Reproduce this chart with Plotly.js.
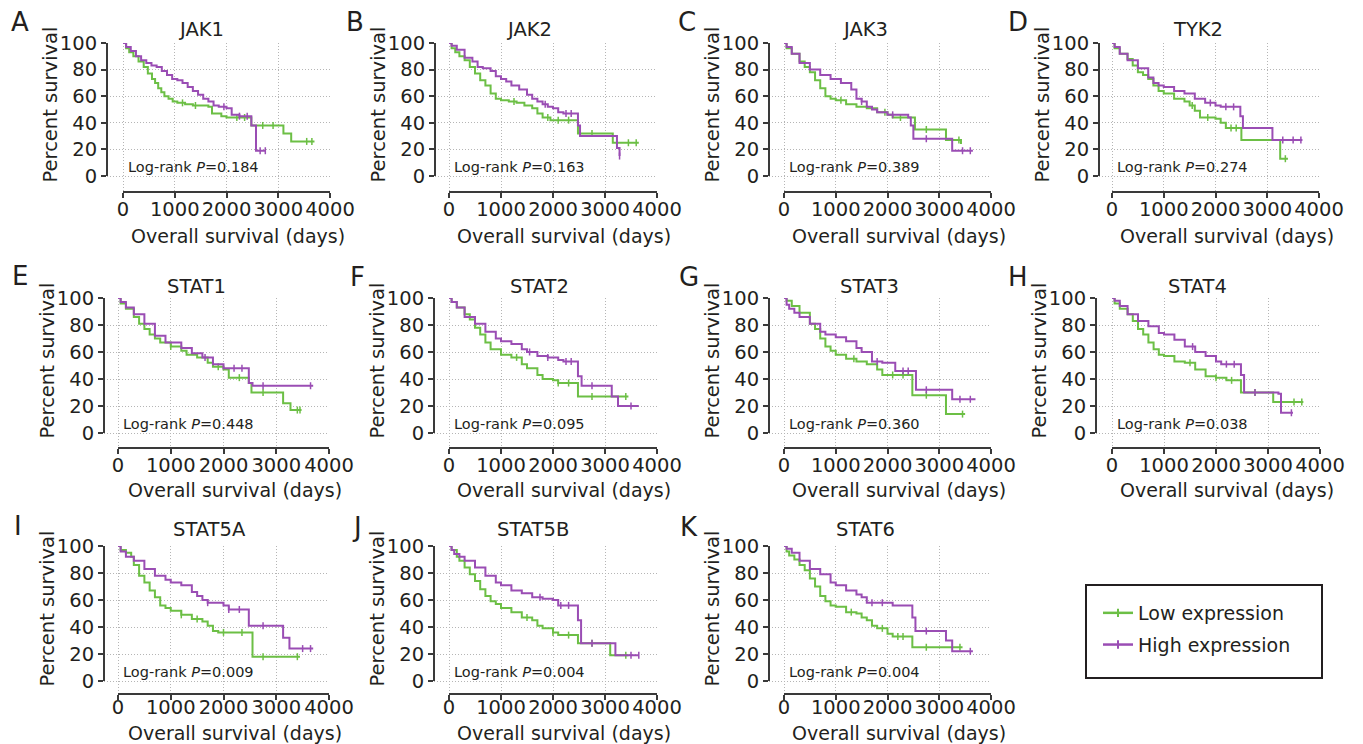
<!DOCTYPE html>
<html><head><meta charset="utf-8">
<script src="https://cdn.plot.ly/plotly-3.0.1.min.js"></script>
<style>html,body{margin:0;padding:0;background:#fff;} #chart{width:1363px;height:744px;}</style>
</head><body><div id="chart"></div>
<script>
// ---------------- DATA ----------------
const genes   = ['JAK1','JAK2','JAK3','TYK2','STAT1','STAT2','STAT3','STAT4','STAT5A','STAT5B','STAT6'];
const letters = ['A','B','C','D','E','F','G','H','I','J','K'];
const pValues = ['0.184','0.163','0.389','0.274','0.448','0.095','0.360','0.038','0.009','0.004','0.004'];
const xTicks = [0,1000,2000,3000,4000];
const yTicks = [0,20,40,60,80,100];
const seriesNames = ['Low expression','High expression'];

// JAK1
const JAK1_low_t  = [0,60,120,200,300,400,480,560,620,680,740,800,880,960,1050,1200,1350,1500,1650,1720,1900,2000,2480,3100,3250,3700];
const JAK1_low_s  = [100,96,93,90,86,82,77,73,70,66,63,60,58,56,55,54,53,53,52,47,45,44,38,32,26,26];
const JAK1_low_c  = [1150,1400,2200,2350,2700,2900,3550,3650];
const JAK1_high_t = [0,60,150,250,350,450,550,650,750,850,950,1050,1150,1250,1350,1450,1550,1650,1750,1850,2000,2100,2250,2480,2570,2750];
const JAK1_high_s = [100,97,94,90,87,85,83,82,79,76,73,72,70,67,64,61,58,56,53,52,51,46,45,38,19,19];
const JAK1_high_c = [1950,2250,2400,2650,2750];
// JAK2
const JAK2_low_t  = [0,50,120,200,300,400,500,600,700,800,900,1000,1150,1300,1450,1600,1700,1800,1950,2480,3150,3650];
const JAK2_low_s  = [100,96,93,90,87,82,77,72,68,62,58,57,56,55,53,51,47,44,42,32,25,25];
const JAK2_low_c  = [1250,1900,2100,2300,2750,3450,3600];
const JAK2_high_t = [0,50,150,300,450,550,650,800,900,1000,1100,1200,1350,1500,1600,1700,1800,1900,2000,2100,2200,2480,2520,3230,3280];
const JAK2_high_s = [100,98,95,89,86,82,81,79,75,73,71,68,65,61,58,56,54,52,51,48,47,38,30,21,15];
const JAK2_high_c = [1850,2250,2350,3280];
// JAK3
const JAK3_low_t  = [0,50,150,300,400,500,600,700,800,900,1000,1200,1400,1600,1800,2000,2100,2530,3130,3420];
const JAK3_low_s  = [100,96,92,86,82,78,72,66,60,58,57,54,52,51,48,46,44,35,27,24];
const JAK3_low_c  = [1100,1950,2250,2750,3380];
const JAK3_high_t = [0,50,150,300,500,700,900,1100,1300,1400,1500,1600,1700,1800,2000,2400,2450,2500,3250,3650];
const JAK3_high_s = [100,97,92,85,80,76,73,70,65,58,56,52,50,48,46,44,38,28,19,19];
const JAK3_high_c = [1500,2100,2750,3450,3600];
// TYK2
const TYK2_low_t  = [0,50,150,300,400,500,600,700,800,900,1000,1200,1400,1500,1600,1700,2000,2100,2200,2500,3250,3400];
const TYK2_low_s  = [100,96,92,88,83,78,76,73,68,64,62,58,56,53,49,44,43,40,36,27,13,13];
const TYK2_low_c  = [1550,1850,2300,2400,3350];
const TYK2_high_t = [0,50,150,300,500,700,800,900,1000,1200,1400,1600,1800,2000,2100,2480,2530,3100,3680];
const TYK2_high_s = [100,97,92,87,81,74,70,68,67,64,62,58,55,53,52,45,36,27,27];
const TYK2_high_c = [1900,2200,2350,3300,3500,3650];
// STAT1
const STAT1_low_t  = [0,50,150,300,400,500,600,700,800,1000,1200,1300,1500,1700,1800,2000,2100,2480,2530,3130,3270,3480];
const STAT1_low_s  = [100,96,92,86,81,77,73,70,67,64,61,58,56,52,49,47,41,37,30,22,17,17];
const STAT1_low_c  = [1000,1900,2300,2750,3400,3450];
const STAT1_high_t = [0,50,150,300,500,700,900,1000,1200,1400,1600,1800,2000,2480,2550,3700];
const STAT1_high_s = [100,97,93,88,81,72,67,67,63,59,56,51,48,37,35,35];
const STAT1_high_c = [1650,2200,2350,2750,3650];
// STAT2
const STAT2_low_t  = [0,50,150,300,400,500,600,700,800,1000,1200,1400,1500,1700,1800,2000,2100,2480,3450];
const STAT2_low_s  = [100,97,93,88,84,78,73,67,62,58,56,51,48,43,40,39,37,27,27];
const STAT2_low_c  = [1300,2100,2300,2750,3400];
const STAT2_high_t = [0,50,150,300,500,700,900,1000,1200,1400,1500,1700,1900,2100,2200,2480,2550,3130,3250,3650];
const STAT2_high_s = [100,97,93,86,81,75,70,68,66,62,60,57,56,54,53,42,35,27,20,20];
const STAT2_high_c = [1550,1900,2250,2350,2750,3500];
// STAT3
const STAT3_low_t  = [0,50,150,300,500,600,700,800,900,1000,1200,1400,1600,1800,1900,2480,3130,3500];
const STAT3_low_s  = [100,98,94,89,81,77,70,64,61,58,55,53,51,47,43,28,14,14];
const STAT3_low_c  = [1350,2100,2300,2750,3450];
const STAT3_high_t = [0,50,100,200,300,500,700,800,1000,1200,1400,1500,1700,1900,2150,2550,3250,3700];
const STAT3_high_s = [100,95,92,89,86,81,75,73,71,68,63,60,53,52,46,32,25,25];
const STAT3_high_c = [1800,2300,2400,2750,3400,3600];
// STAT4
const STAT4_low_t  = [0,50,150,300,400,500,600,700,800,900,1000,1200,1400,1600,1800,2000,2200,2480,3100,3680];
const STAT4_low_s  = [100,96,92,88,83,77,73,67,62,58,57,53,52,47,42,41,39,30,23,23];
const STAT4_low_c  = [1500,2000,2300,2750,3500,3650];
const STAT4_high_t = [0,50,150,300,500,700,900,1000,1200,1400,1600,1800,2000,2100,2480,2540,3200,3250,3480];
const STAT4_high_s = [100,98,94,88,83,79,74,73,69,64,60,57,53,51,43,30,29,15,15];
const STAT4_high_c = [1550,2200,2350,2750,3450];
// STAT5A
const STAT5A_low_t  = [0,50,150,250,300,400,500,600,700,800,900,1000,1200,1400,1600,1700,1800,1900,2550,3450];
const STAT5A_low_s  = [100,97,95,92,86,78,73,67,62,56,54,52,49,46,44,41,37,36,18,18];
const STAT5A_low_c  = [1200,1500,2000,2350,2750,3400];
const STAT5A_high_t = [0,50,150,300,500,700,900,1000,1200,1400,1500,1600,1700,2000,2100,2480,3130,3250,3700];
const STAT5A_high_s = [100,96,92,89,83,78,75,73,71,66,63,60,58,56,53,41,32,24,24];
const STAT5A_high_c = [1700,2100,2300,2750,3500,3650];
// STAT5B
const STAT5B_low_t  = [0,50,150,200,300,400,500,600,700,800,900,1000,1200,1400,1600,1700,1800,2000,2100,2480,3100,3450];
const STAT5B_low_s  = [100,97,92,89,84,79,74,68,63,59,57,54,51,47,45,41,39,36,34,28,19,19];
const STAT5B_low_c  = [1500,2000,2300,2750,3400];
const STAT5B_high_t = [0,50,100,200,300,500,700,900,1000,1200,1400,1600,1800,2000,2100,2480,2540,3200,3650];
const STAT5B_high_s = [100,97,94,92,89,84,78,73,71,67,65,62,61,60,56,45,28,19,19];
const STAT5B_high_c = [1750,2150,2300,2750,3500,3650];
// STAT6
const STAT6_low_t  = [0,50,100,200,300,400,500,600,700,800,900,1000,1200,1400,1500,1600,1700,1800,2000,2100,2480,3450];
const STAT6_low_s  = [100,96,93,90,86,82,76,70,63,59,56,55,51,50,47,45,41,39,35,33,25,25];
const STAT6_low_c  = [1300,1900,2200,2300,2750,3400];
const STAT6_high_t = [0,50,150,300,500,700,900,1000,1200,1400,1500,1600,2100,2480,2540,3130,3250,3650];
const STAT6_high_s = [100,98,95,89,83,79,73,71,67,64,62,58,56,47,37,30,22,22];
const STAT6_high_c = [1700,1900,2750,3600];

const curves = {
  JAK1:[[JAK1_low_t,JAK1_low_s,JAK1_low_c],[JAK1_high_t,JAK1_high_s,JAK1_high_c]],
  JAK2:[[JAK2_low_t,JAK2_low_s,JAK2_low_c],[JAK2_high_t,JAK2_high_s,JAK2_high_c]],
  JAK3:[[JAK3_low_t,JAK3_low_s,JAK3_low_c],[JAK3_high_t,JAK3_high_s,JAK3_high_c]],
  TYK2:[[TYK2_low_t,TYK2_low_s,TYK2_low_c],[TYK2_high_t,TYK2_high_s,TYK2_high_c]],
  STAT1:[[STAT1_low_t,STAT1_low_s,STAT1_low_c],[STAT1_high_t,STAT1_high_s,STAT1_high_c]],
  STAT2:[[STAT2_low_t,STAT2_low_s,STAT2_low_c],[STAT2_high_t,STAT2_high_s,STAT2_high_c]],
  STAT3:[[STAT3_low_t,STAT3_low_s,STAT3_low_c],[STAT3_high_t,STAT3_high_s,STAT3_high_c]],
  STAT4:[[STAT4_low_t,STAT4_low_s,STAT4_low_c],[STAT4_high_t,STAT4_high_s,STAT4_high_c]],
  STAT5A:[[STAT5A_low_t,STAT5A_low_s,STAT5A_low_c],[STAT5A_high_t,STAT5A_high_s,STAT5A_high_c]],
  STAT5B:[[STAT5B_low_t,STAT5B_low_s,STAT5B_low_c],[STAT5B_high_t,STAT5B_high_s,STAT5B_high_c]],
  STAT6:[[STAT6_low_t,STAT6_low_s,STAT6_low_c],[STAT6_high_t,STAT6_high_s,STAT6_high_c]]
};

// ---------------- LAYOUT GEOMETRY (pixels) ----------------
const W = 1363, H = 744;
// ya: y-axis line x; x0/x1: x-range ends; y100/y0: y-range ends; xa: x-axis line y; so: tick label standoff
const geom = [
  {ya:107, x0:123, x1:330, y100:43,  y0:176, xa:192, tx:201,  ty:30,  lx:20,   ly:22,  xty:236, so:-5},
  {ya:435, x0:449, x1:657, y100:43,  y0:176, xa:192, tx:529,  ty:30,  lx:355,  ly:22,  xty:236, so:-5},
  {ya:769, x0:784, x1:991, y100:43,  y0:176, xa:192, tx:865,  ty:30,  lx:687,  ly:22,  xty:236, so:-5},
  {ya:1099,x0:1112,x1:1319,y100:43,  y0:176, xa:192, tx:1198, ty:30,  lx:1018, ly:22,  xty:236, so:-5},
  {ya:104, x0:118, x1:329, y100:298, y0:433, xa:448, tx:196,  ty:286, lx:20,   ly:276, xty:490, so:-5},
  {ya:434, x0:449, x1:657, y100:298, y0:433, xa:448, tx:539,  ty:286, lx:357,  ly:277, xty:490, so:-5},
  {ya:769, x0:784, x1:991, y100:298, y0:433, xa:448, tx:869,  ty:286, lx:689,  ly:277, xty:490, so:-5},
  {ya:1096,x0:1112,x1:1320,y100:298, y0:433, xa:448, tx:1197, ty:286, lx:1018, ly:277, xty:490, so:-5},
  {ya:104, x0:118, x1:329, y100:546, y0:681, xa:694, tx:209,  ty:529, lx:18,   ly:526, xty:733, so:-9},
  {ya:434, x0:449, x1:657, y100:546, y0:681, xa:694, tx:533,  ty:529, lx:357,  ly:527, xty:733, so:-9},
  {ya:769, x0:784, x1:991, y100:546, y0:681, xa:694, tx:865,  ty:529, lx:689,  ly:527, xty:733, so:-9}
];

const FONT = 'DejaVu Sans, Arial, sans-serif';
const TXT = '#231f20';
const AXC = '#3a3a3a';
const GRID = '#b5b5b5';
const COLORS = ['#6cbf45', '#9a4db4'];
const XMAX = xTicks[xTicks.length-1], YMAX = yTicks[yTicks.length-1];

const px = v => v / W;
const py = v => 1 - v / H;
const axKey = (c, n) => n === 1 ? c + 'axis' : c + 'axis' + n;
const axRef = (c, n) => n === 1 ? c : c + n;

function survAt(ts, ss, t) {
  let v = ss[0];
  for (let i = 0; i < ts.length; i++) { if (ts[i] <= t) v = ss[i]; }
  return v;
}

const data = [];
const layout = {
  width: W, height: H,
  margin: {l:0, r:0, t:0, b:0},
  paper_bgcolor: '#ffffff', plot_bgcolor: 'rgba(0,0,0,0)',
  showlegend: true,
  font: {family: FONT, color: TXT},
  annotations: [], shapes: []
};

genes.forEach((gene, i) => {
  const g = geom[i];
  const gid = 2*i + 1, did = 2*i + 2;
  // grid subplot (spans the offset axes area)
  layout[axKey('x', gid)] = {
    domain: [px(g.ya), px(g.x1)],
    range: [-(g.x0 - g.ya) / (g.x1 - g.x0) * XMAX, XMAX],
    anchor: axRef('y', gid), tickmode: 'array', tickvals: xTicks,
    showticklabels: false, ticks: '', showline: false, zeroline: false,
    showgrid: true, gridcolor: GRID, griddash: '1px,2px', gridwidth: 1, fixedrange: true
  };
  layout[axKey('y', gid)] = {
    domain: [py(g.xa), py(g.y100)],
    range: [-(g.xa - g.y0) / (g.y0 - g.y100) * YMAX, YMAX],
    anchor: axRef('x', gid), tickmode: 'array', tickvals: yTicks,
    showticklabels: false, ticks: '', showline: false, zeroline: false,
    showgrid: true, gridcolor: GRID, griddash: '1px,2px', gridwidth: 1, fixedrange: true
  };
  // data subplot with offset (free) axes
  layout[axKey('x', did)] = {
    domain: [px(g.x0), px(g.x1)], range: [0, XMAX],
    anchor: 'free', position: py(g.xa),
    tickmode: 'array', tickvals: xTicks,
    showline: true, linecolor: AXC, linewidth: 2,
    ticks: 'outside', ticklen: 5, tickwidth: 2, tickcolor: AXC,
    ticklabelstandoff: g.so,
    tickfont: {family: FONT, size: 19.5, color: TXT},
    showgrid: false, zeroline: false, fixedrange: true
  };
  layout[axKey('y', did)] = {
    domain: [py(g.y0), py(g.y100)], range: [0, YMAX],
    anchor: 'free', position: px(g.ya),
    tickmode: 'array', tickvals: yTicks,
    showline: true, linecolor: AXC, linewidth: 2,
    ticks: 'outside', ticklen: 5, tickwidth: 2, tickcolor: AXC,
    tickfont: {family: FONT, size: 19.5, color: TXT},
    showgrid: false, zeroline: false, fixedrange: true
  };
  // keep grid subplot alive
  data.push({type:'scatter', mode:'lines', x:[null], y:[null], xaxis: axRef('x', gid), yaxis: axRef('y', gid),
             showlegend:false, hoverinfo:'skip'});

  curves[gene].forEach((cv, k) => {
    const [ts, ss, cs] = cv;
    data.push({
      type:'scatter', mode:'lines', x: ts, y: ss, name: seriesNames[k],
      xaxis: axRef('x', did), yaxis: axRef('y', did),
      line: {shape:'hv', color: COLORS[k], width: 2},
      showlegend: false, hoverinfo: 'x+y'
    });
    data.push({
      type:'scatter', mode:'markers', x: cs, y: cs.map(t => survAt(ts, ss, t)), name: seriesNames[k],
      xaxis: axRef('x', did), yaxis: axRef('y', did),
      marker: {symbol:'line-ns-open', size: 5, line: {width: 1.5, color: COLORS[k]}, color: COLORS[k]},
      showlegend: false, hoverinfo: 'skip'
    });
  });

  // texts
  layout.annotations.push(
    {text: letters[i], xref:'paper', yref:'paper', x: px(g.lx), y: py(g.ly), xanchor:'center', yanchor:'middle',
     showarrow:false, font:{family: FONT, size: 26, color: TXT}},
    {text: gene, xref:'paper', yref:'paper', x: px(g.tx), y: py(g.ty), xanchor:'center', yanchor:'middle',
     showarrow:false, font:{family: FONT, size: 19.5, color: TXT}},
    {text: 'Percent survival', xref:'paper', yref:'paper', x: px(g.ya - 57), y: py((g.y0 + g.y100)/2 - 5),
     xanchor:'center', yanchor:'middle', textangle: -90, showarrow:false, font:{family: FONT, size: 19.5, color: TXT}},
    {text: 'Overall survival (days)', xref:'paper', yref:'paper', x: px((g.x0 + g.x1)/2 + 11), y: py(g.xty),
     xanchor:'center', yanchor:'middle', showarrow:false, font:{family: FONT, size: 19, color: TXT}},
    {text: 'Log-rank <i>P</i>=' + pValues[i], xref:'paper', yref:'paper', x: px(g.x0 + 3), y: py(g.y0 - 9),
     xanchor:'left', yanchor:'middle', showarrow:false, font:{family: FONT, size: 14.5, color: TXT}}
  );
});

// legend entries
seriesNames.forEach((nm, k) => {
  data.push({type:'scatter', mode:'lines+markers', x:[null], y:[null], name: nm, legendgroup: 'g' + k,
             xaxis:'x2', yaxis:'y2', showlegend: true, hoverinfo:'skip',
             line:{color: COLORS[k], width: 2.5},
             marker:{symbol:'line-ns-open', size: 6, line:{width: 2, color: COLORS[k]}, color: COLORS[k]}});
});
layout.legend = {x: px(1098), y: py(594), xanchor:'left', yanchor:'top', traceorder:'grouped', tracegroupgap: 4,
                 bgcolor:'rgba(0,0,0,0)', borderwidth: 0, itemwidth: 30,
                 font:{family: FONT, size: 19, color: TXT}, itemclick:false, itemdoubleclick:false};
layout.shapes.push({type:'rect', xref:'paper', yref:'paper', x0: px(1086), x1: px(1322), y0: py(678), y1: py(585),
                    line:{color: TXT, width: 2}, fillcolor:'rgba(0,0,0,0)'});

Plotly.newPlot('chart', data, layout, {displayModeBar:false, staticPlot:true});
</script></body></html>
